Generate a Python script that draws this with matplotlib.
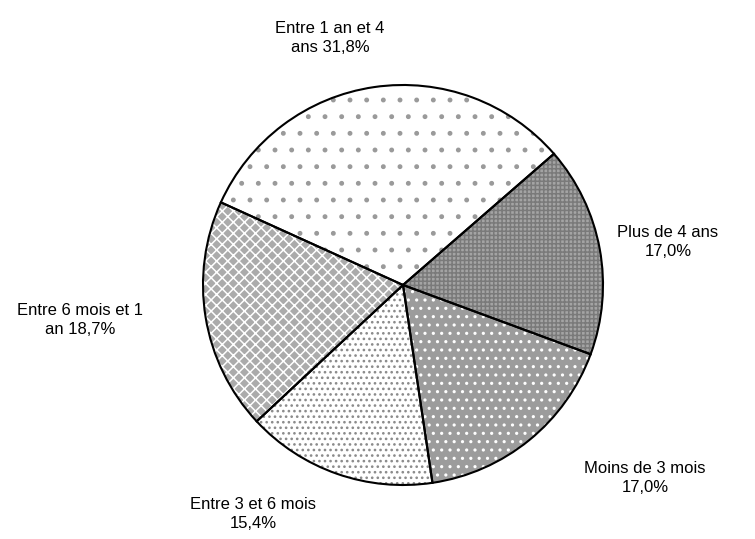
import matplotlib.pyplot as plt

# Data (clockwise from the upper-right boundary)
labels = ["Plus de 4 ans\n17,0%", "Moins de 3 mois\n17,0%", "Entre 3 et 6 mois\n15,4%",
          "Entre 6 mois et 1\nan 18,7%", "Entre 1 an et 4\nans 31,8%"]
values = [17.0, 17.0, 15.4, 18.7, 31.8]

# fill style per slice: face colour, hatch, hatch colour
faces = ["#a4a4a4", "#9c9c9c", "white", "#ababab", "white"]
hatches = ["++++", "..", "...", "xxx", "."]
hatch_cols = ["#7a7a7a", "white", "#8a8a8a", "white", "#9a9a9a"]

label_pos = [(668, 242), (645, 478), (253, 514), (80, 320), (330, 38)]

plt.rcParams['font.family'] = ['Liberation Sans', 'DejaVu Sans']
plt.rcParams['hatch.linewidth'] = 1.1

fig = plt.figure(figsize=(7.55, 5.39), dpi=100)
ax = fig.add_axes([0, 0, 1, 1])

center = (403, 285)
radius = 200

# fill pass (hatch colour comes from edgecolor)
wedges, _ = ax.pie(values, center=center, radius=radius, startangle=-41,
                   counterclock=True, frame=True)
for w, fc, h, hc in zip(wedges, faces, hatches, hatch_cols):
    w.set_facecolor(fc)
    w.set_hatch(h)
    w.set_edgecolor(hc)
    w.set_linewidth(0)

# outline pass
ax.pie(values, center=center, radius=radius, startangle=-41,
       counterclock=True, frame=True,
       wedgeprops=dict(facecolor='none', edgecolor='black', linewidth=1.5))

ax.set_xlim(0, 755)
ax.set_ylim(539, 0)
ax.set_aspect('equal')
ax.axis('off')

for lab, (x, y) in zip(labels, label_pos):
    ax.text(x, y, lab, ha='center', va='center', fontsize=12, linespacing=1.3)

fig.savefig('out.png', dpi=100)
